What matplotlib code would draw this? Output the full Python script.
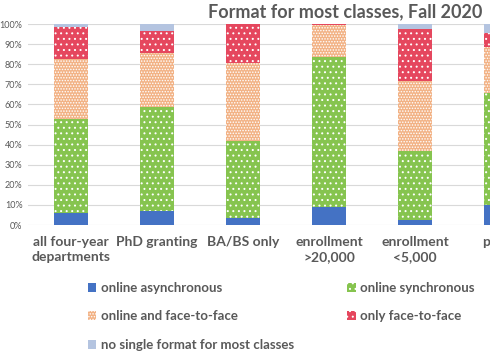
import matplotlib
matplotlib.use("Agg")
import matplotlib.pyplot as plt
import numpy as np

# categories (the chart is cropped on the right, the 6th bar is only partly visible)
categories = ["all four-year\ndepartments", "PhD granting", "BA/BS only",
              "enrollment\n>20,000", "enrollment\n<5,000", "public"]

# percent of departments
online_async = [6.1, 7.1, 3.6, 9.1, 2.5, 10.0]
online_sync = [46.5, 51.8, 38.2, 74.6, 34.5, 55.8]
online_f2f = [30.0, 26.5, 38.9, 15.8, 34.6, 22.6]
only_f2f = [16.1, 11.3, 19.3, 0.5, 25.9, 7.3]
no_single = [1.3, 3.3, 0.0, 0.0, 2.5, 4.3]

series = [
    ("online asynchronous", online_async, "#4472C4", None),
    ("online synchronous", online_sync, "#86C44F", "..."),
    ("online and face-to-face", online_f2f, "#F2B285", "......"),
    ("only face-to-face", only_f2f, "#E5475E", "..."),
    ("no single format for most classes", no_single, "#B4C4E0", None),
]

plt.rcParams["font.family"] = ["Lato", "DejaVu Sans"]
plt.rcParams["hatch.linewidth"] = 0.7
gray = "#595959"

fig = plt.figure(figsize=(4.9, 3.56), dpi=100)
# axes run past the right edge, like the cropped original
ax = fig.add_axes([28 / 490, 1 - 225 / 356, 602 / 490, 201 / 356])

x = np.arange(len(categories))
bottom = np.zeros(len(categories))
handles = []
for name, vals, col, hatch in series:
    vals = np.array(vals)
    b = ax.bar(x, vals, 0.4, bottom=bottom, color=col, edgecolor="white",
               linewidth=0, hatch=hatch, label=name, zorder=2)
    handles.append(b)
    bottom += vals

ax.set_xlim(-0.5, 6.5)
ax.set_ylim(0, 100)
ax.set_yticks(np.arange(0, 101, 10))
ax.set_yticklabels([f"{v}%" for v in range(0, 101, 10)], fontsize=6.5,
                   color=gray)
ax.set_xticks(x)
ax.set_xticklabels(categories, fontsize=10, fontweight="bold", color=gray,
                   linespacing=1.3)
ax.tick_params(length=0)
ax.tick_params(axis="x", pad=8)
ax.tick_params(axis="y", pad=4)
ax.grid(axis="y", color="#D9D9D9", linewidth=0.8, zorder=0)
for s in ax.spines.values():
    s.set_visible(False)

fig.text(345 / 490, 1 - 12 / 356, "Format for most classes, Fall 2020",
         ha="center", va="center", fontsize=13, fontweight="bold", color=gray)

# matplotlib fills legend columns first, so reorder for a row-wise look
order = [0, 2, 4, 1, 3]
leg = fig.legend([handles[i] for i in order], [series[i][0] for i in order],
                 ncol=2, loc="upper left", bbox_to_anchor=(76 / 490, 1 - 270 / 356),
                 frameon=False, handlelength=0.65, handleheight=0.65,
                 handletextpad=0.35, columnspacing=4.0, labelspacing=1.25,
                 prop={"size": 9.5, "weight": "bold"})
for t in leg.get_texts():
    t.set_color(gray)

fig.savefig("out.png", dpi=100)
